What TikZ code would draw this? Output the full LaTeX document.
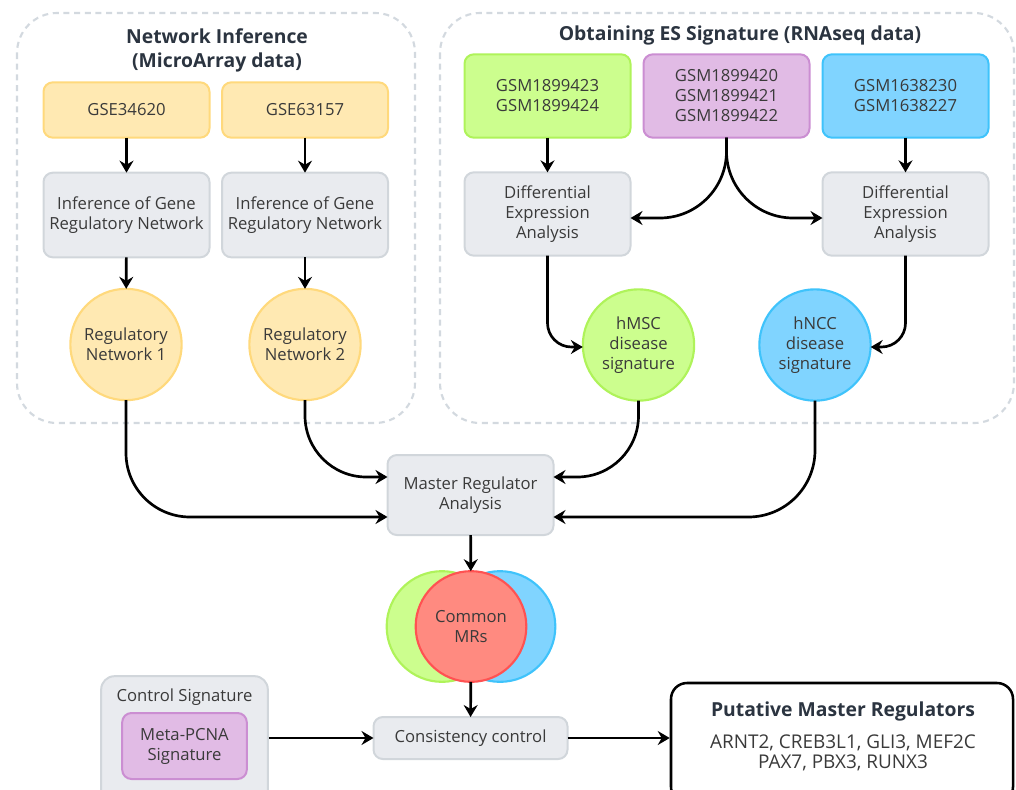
\documentclass[tikz,border=0pt]{standalone}
\usepackage{fontspec}
\setmainfont{Open Sans}
\usetikzlibrary{arrows.meta,calc}
\definecolor{yelF}{HTML}{FFE9B2}
\definecolor{yelD}{HTML}{FFD97C}
\definecolor{grayF}{HTML}{E9EBEF}
\definecolor{grayD}{HTML}{D1D6DB}
\definecolor{grnF}{HTML}{CCFE8E}
\definecolor{grnD}{HTML}{AFF35A}
\definecolor{purF}{HTML}{E1BBE5}
\definecolor{purD}{HTML}{CB8ED2}
\definecolor{bluF}{HTML}{80D4FF}
\definecolor{bluD}{HTML}{3FC3FB}
\definecolor{redF}{HTML}{FF8A80}
\definecolor{redD}{HTML}{FF5252}
\definecolor{txtc}{HTML}{3A3A3A}
\definecolor{ttlc}{HTML}{2B3440}
\definecolor{dashc}{HTML}{D3D9DF}
\tikzset{
  base/.style={align=center, inner sep=0pt, outer sep=0pt, text=txtc, font=\fontsize{12.5}{15}\selectfont},
  boxs/.style={base, draw, rounded corners=7pt, line width=1.5pt, minimum width=124.5pt},
  ybox/.style={boxs, fill=yelF, draw=yelD, minimum height=41.5pt},
  gbox/.style={boxs, fill=grayF, draw=grayD, minimum height=63.5pt},
  sbox/.style={boxs, fill=#1F, draw=#1D, minimum height=62.5pt},
  circ/.style={base, circle, draw=#1D, fill=#1F, line width=1.6pt, minimum size=83.5pt},
  ttl/.style={align=center, inner sep=0pt, text=ttlc, font=\fontsize{14.5}{18}\selectfont\bfseries},
  dashbox/.style={draw=dashc, line width=1.6pt, dash pattern=on 4.5pt off 3.5pt, rounded corners=30pt},
  arr/.style={draw=black, line width=2pt, -{Stealth[length=9pt,width=10.5pt,inset=3pt]}},
}
\begin{document}
\begin{tikzpicture}[x=0.75pt,y=-0.75pt]
\useasboundingbox (0,0) rectangle (1016,789);
% containers
\draw[dashbox] (17,13) rectangle (415,423);
\draw[dashbox] (440,13) rectangle (1014,423);
\node[ttl] (t1) at (217,50) {Network Inference\\(MicroArray data)};
\node[ttl] (t2) at (740,35.5) {Obtaining ES Signature (RNAseq data)};
% left column
\node[ybox] (y1) at (126.5,110) {GSE34620};
\node[ybox] (y2) at (305,110) {GSE63157};
\node[gbox] (g1) at (126.5,215) {Inference of Gene\\Regulatory Network};
\node[gbox] (g2) at (305,215) {Inference of Gene\\Regulatory Network};
\node[circ=yel] (c1) at (126,344.5) {Regulatory\\Network 1};
\node[circ=yel] (c2) at (305,344.5) {Regulatory\\Network 2};
% right column
\node[sbox=grn] (gA) at (547.5,96) {GSM1899423\\GSM1899424};
\node[sbox=pur] (pB) at (726.5,96) {GSM1899420\\GSM1899421\\GSM1899422};
\node[sbox=blu] (bC) at (905.5,96) {GSM1638230\\GSM1638227};
\node[gbox, minimum height=62.5pt] (dA) at (547.5,214) {Differential\\Expression\\Analysis};
\node[gbox, minimum height=62.5pt] (dC) at (905.5,214) {Differential\\Expression\\Analysis};
\node[circ=grn] (hm) at (638.5,345) {hMSC\\disease\\signature};
\node[circ=blu] (hn) at (815,345) {hNCC\\disease\\signature};
% middle
\node[gbox, minimum height=60pt] (mra) at (470.5,495) {Master Regulator\\Analysis};
\node[circ=grn, minimum size=83pt] (vg) at (442,626.5) {};
\node[circ=blu, minimum size=83pt] (vb) at (500,626.5) {};
\node[circ=red, minimum size=83pt] (vr) at (471,626.5) {Common\\MRs};
\node[gbox, minimum width=145.5pt, minimum height=31.5pt] (cons) at (470.5,738) {Consistency control};
% control signature
\node[draw=grayD, fill=grayF, line width=1.5pt, rounded corners=10pt, minimum width=125pt, minimum height=101pt, inner sep=0pt] (ctrl) at (184.5,743.5) {};
\node[base] (ctrlt) at (184.5,697) {Control Signature};
\node[sbox=pur, minimum width=93.5pt, minimum height=49.5pt] (meta) at (184.5,746) {Meta-PCNA\\Signature};
% putative
\node[draw=black, fill=white, line width=1.9pt, rounded corners=12pt, minimum width=256.5pt, minimum height=90pt, inner sep=0pt] (put) at (842,743) {};
\node[ttl] (putt) at (843,711.5) {Putative Master Regulators};
\node[base, font=\fontsize{14.2}{15.5}\selectfont] (putl) at (843,753) {ARNT2, CREB3L1, GLI3, MEF2C\\PAX7, PBX3, RUNX3};
% arrows
\draw[arr] (y1) -- (g1);
\draw[arr] (y2) -- (g2);
\draw[arr] (g1) -- (c1);
\draw[arr] (g2) -- (c2);
\draw[arr] (gA) -- (dA);
\draw[arr] (bC) -- (dC);
\draw[arr, rounded corners=50pt] (pB.south) |- ($(dA.east)+(0,4)$);
\draw[arr, rounded corners=50pt] (pB.south) |- ($(dC.west)+(0,4)$);
\draw[arr, rounded corners=18pt] (dA.south) |- ($(hm.west)+(0,2)$);
\draw[arr, rounded corners=18pt] (dC.south) |- ($(hn.east)+(0,2)$);
\draw[arr, rounded corners=48pt] (c1.south) |- ($(mra.west)+(0,22)$);
\draw[arr, rounded corners=46pt] (c2.south) |- ($(mra.west)+(0,-18)$);
\draw[arr, rounded corners=46pt] (hm.south) |- ($(mra.east)+(0,-18)$);
\draw[arr, rounded corners=50pt] (hn.south) |- ($(mra.east)+(0,22)$);
\draw[arr] (mra) -- (vr);
\draw[arr] (vr) -- (cons);
\draw[arr] (ctrl.east |- cons.west) -- (cons.west);
\draw[arr] (cons.east) -- (put.west |- cons.east);
\end{tikzpicture}
\end{document}
